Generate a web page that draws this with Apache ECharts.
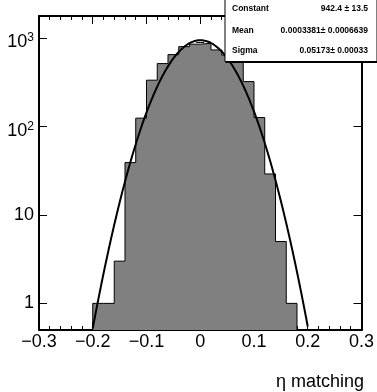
<!DOCTYPE html>
<html>
<head>
<meta charset="utf-8">
<script src="https://cdn.jsdelivr.net/npm/echarts@6/dist/echarts.min.js"></script>
<style>
  html, body { margin: 0; padding: 0; background: #ffffff; }
  #chart { width: 377px; height: 392px; }
</style>
</head>
<body>
<div id="chart"></div>
<script>
// Histogram of eta matching: lower bin edges and entries per bin
const binLowEdges = [-0.20, -0.18, -0.16, -0.14, -0.12, -0.10, -0.08, -0.06, -0.04, -0.02,
                      0.00,  0.02,  0.04,  0.06,  0.08,  0.10,  0.12,  0.14,  0.16];
const binWidth = 0.02;
const binCounts = [1, 1, 3, 39, 124, 333, 513, 648, 797, 850,
                   870, 732, 640, 560, 321, 126, 29, 5, 1];

// Gaussian fit result
const fitConstant = 942.4;
const fitMean = 0.0003381;
const fitSigma = 0.05173;
const fitRange = [-0.2, 0.2];

// Statistics box rows
const statNames  = ['Constant', 'Mean', 'Sigma'];
const statValues = ['942.4 \u00b1 13.5', '0.0003381\u00b1 0.0006639', '0.05173\u00b1 0.00033'];

// Axis ranges and ticks
const xRange = [-0.3, 0.3];
const xStep = 0.1;
const yRange = [0.5, 1770];
const yDecades = [1, 10, 100, 1000];
const xTitle = '\u03b7 matching';

const FONT = '"Liberation Sans", Arial, Helvetica, sans-serif';
const lg = Math.log10;

// Vertical axis works in log10 units
const yMinL = lg(yRange[0]);
const yMaxL = lg(yRange[1]);
const majorY = yDecades.map(lg);
const minorY = [];
for (let d = -1; d <= 3; d++) {
  for (let k = 2; k <= 9; k++) {
    const v = k * Math.pow(10, d);
    if (v > yRange[0] && v < yRange[1]) minorY.push(lg(v));
  }
}

// Step outline of the histogram, closed down to the axis minimum
const n = binLowEdges.length;
const histPts = [[binLowEdges[0], yMinL]];
for (let i = 0; i < n; i++) histPts.push([binLowEdges[i], lg(binCounts[i])]);
const upperEdge = binLowEdges[n - 1] + binWidth;
histPts.push([upperEdge, lg(binCounts[n - 1])]);
histPts.push([upperEdge, yMinL]);

// Fitted Gaussian over the fit range
const fitPts = [];
const nFit = 400;
for (let i = 0; i <= nFit; i++) {
  const x = fitRange[0] + (fitRange[1] - fitRange[0]) * i / nFit;
  const z = (x - fitMean) / fitSigma;
  fitPts.push([x, lg(fitConstant * Math.exp(-0.5 * z * z))]);
}

function xLabel(v) {
  const r = Math.round(v * 10) / 10;
  if (r === 0) return '0';
  return (r < 0 ? '\u2212' : '') + Math.abs(r).toFixed(1);
}
function yLabel(v) {
  const e = Math.round(v);
  if (e === 0) return '{p|1}';
  if (e === 1) return '{p|10}';
  return '{b|10}{s|' + e + '}';
}

const frame = { show: true, onZero: false, lineStyle: { color: '#000', width: 2 } };
const tickStyle = { color: '#000', width: 1 };

function xAxisDef(pos, withLabels) {
  return {
    type: 'value', position: pos, min: xRange[0], max: xRange[1], interval: xStep,
    axisLine: frame,
    axisTick: { show: true, inside: true, length: 8, lineStyle: tickStyle },
    minorTick: { show: true, splitNumber: 5, length: 4, lineStyle: tickStyle },
    splitLine: { show: false },
    axisLabel: withLabels ? {
      show: true, margin: 3, formatter: xLabel, color: '#000',
      fontSize: 18, fontFamily: FONT
    } : { show: false }
  };
}
function yAxisDef(pos, major, withLabels) {
  return {
    type: 'value', position: pos, min: yMinL, max: yMaxL,
    axisLine: major ? frame : { show: false },
    axisTick: { show: true, inside: true, length: major ? 8 : 4, lineStyle: tickStyle,
                customValues: major ? majorY : minorY },
    splitLine: { show: false },
    axisLabel: withLabels ? {
      show: true, margin: 5, customValues: majorY, formatter: yLabel, color: '#000',
      fontFamily: FONT,
      rich: {
        p: { fontSize: 18, fontFamily: FONT, color: '#000' },
        b: { fontSize: 18, lineHeight: 27, verticalAlign: 'bottom', fontFamily: FONT, color: '#000' },
        s: { fontSize: 12, fontFamily: FONT, color: '#000' }
      }
    } : { show: false }
  };
}

// Statistics box drawn over the plot
const boxLeft = 224.5, boxTop = -1, boxW = 152, boxH = 62;
const statGraphics = [
  { type: 'rect', left: boxLeft + 1, top: boxTop + 2, z: 100,
    shape: { width: boxW, height: boxH }, style: { fill: '#000' } },
  { type: 'rect', left: boxLeft, top: boxTop, z: 101,
    shape: { width: boxW, height: boxH }, style: { fill: '#fff', stroke: '#000', lineWidth: 1 } }
];
const rowY = [8.5, 30.5, 51];
statNames.forEach((name, i) => {
  statGraphics.push({ type: 'text', x: 232, y: rowY[i], z: 102,
    style: { text: name, fill: '#000', font: 'bold 8.5px ' + FONT, align: 'left', verticalAlign: 'middle' } });
  statGraphics.push({ type: 'text', x: 368, y: rowY[i], z: 102,
    style: { text: statValues[i], fill: '#000', font: 'bold 8.5px ' + FONT, align: 'right', verticalAlign: 'middle' } });
});
statGraphics.push({ type: 'text', x: 364, y: 382, z: 102,
  style: { text: xTitle, fill: '#000', font: '18px ' + FONT, align: 'right', verticalAlign: 'middle' } });

const chart = echarts.init(document.getElementById('chart'), null, { renderer: 'canvas' });
chart.setOption({
  animation: false,
  backgroundColor: '#ffffff',
  grid: { left: 39, right: 13, top: 16, bottom: 62, containLabel: false },
  xAxis: [xAxisDef('bottom', true), xAxisDef('top', false)],
  yAxis: [
    yAxisDef('left', true, true),
    yAxisDef('left', false, false),
    yAxisDef('right', true, false),
    yAxisDef('right', false, false)
  ],
  series: [
    {
      type: 'line', xAxisIndex: 0, yAxisIndex: 0, data: histPts, step: 'end',
      symbol: 'none', z: 2,
      lineStyle: { color: '#000', width: 1 },
      areaStyle: { color: '#808080', opacity: 1, origin: 'start' }
    },
    {
      type: 'line', xAxisIndex: 0, yAxisIndex: 0, data: fitPts,
      symbol: 'none', z: 3,
      lineStyle: { color: '#000', width: 2 }
    }
  ],
  graphic: statGraphics
});
</script>
</body>
</html>
